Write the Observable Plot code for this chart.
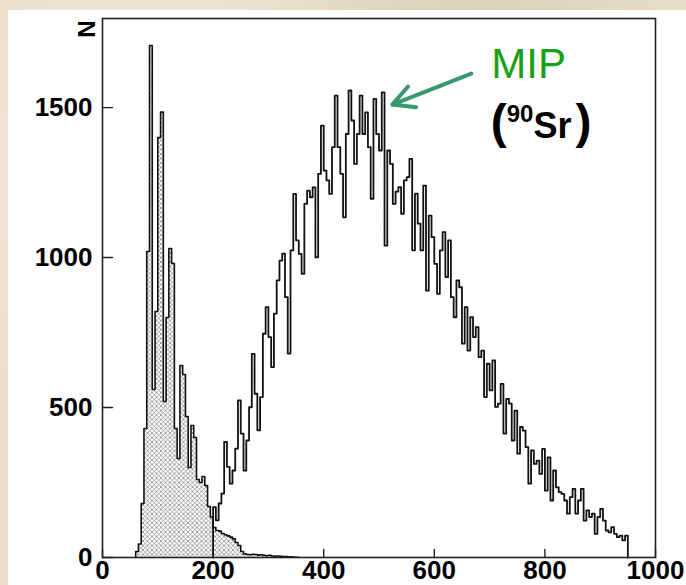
<!DOCTYPE html>
<html><head><meta charset="utf-8">
<script src="https://cdn.jsdelivr.net/npm/d3@7"></script>
<script src="https://cdn.jsdelivr.net/npm/@observablehq/plot@0.6"></script>
<style>
html,body{margin:0;padding:0;}
body{width:686px;height:585px;overflow:hidden;position:relative;
  background:#e9ddc7;
  background-image:radial-gradient(circle at 20% 30%, rgba(255,250,240,0.5) 0, rgba(255,250,240,0) 40%),
                   radial-gradient(circle at 70% 5%, rgba(200,185,160,0.35) 0, rgba(200,185,160,0) 30%);}
#chart{position:absolute;left:8px;top:10px;width:678px;height:575px;background:#fff;}
</style></head><body><div id="chart"></div>
<script>
// Histogram binning (ADC counts)
const binWidth = 5;
// MIP (90Sr) spectrum, bins starting at 200
const mipStart = 200;
const mipCounts = [
  168,124,180,213,385,302,246,290,363,524,
  413,290,390,501,679,546,424,535,746,835,
  735,635,813,924,990,1013,868,680,1024,1212,
  1057,1012,946,1179,1223,1201,1234,1001,1279,1440,
  1290,1257,1212,1368,1540,1368,1279,1134,1412,1557,
  1457,1312,1412,1540,1412,1484,1368,1196,1529,1412,
  1357,1551,1040,1357,1312,1179,1220,1235,1146,1257,
  1268,1329,1024,1213,1113,1024,1240,890,1140,1068,
  979,879,1024,1085,935,1057,868,801,924,901,
  713,835,690,801,735,768,668,690,535,646,
  557,657,502,513,579,413,529,513,390,490,
  346,435,423,368,246,357,312,323,279,362,
  223,334,190,290,234,218,212,190,146,201,
  229,146,190,229,123,157,135,146,79,135,
  162,123,90,84,101,79,68,73,57,73
];
// Pedestal / noise spectrum (hatched), bins starting at 60
const pedStart = 60;
const pedCounts = [
  20,45,180,430,1020,1707,560,820,1400,1485,
  520,800,1030,980,430,330,640,610,470,300,
  440,400,260,250,270,240,170,135,100,90,
  88,80,76,72,68,62,50,40,20,12,
  10,9,11,10,8,9,7,6,7,5,
  4,5,4,3,3,2,2,1,1
];
const xTicks = [0, 200, 400, 600, 800, 1000];
const yTicks = [0, 500, 1000, 1500];
const yAxisLabel = "N";
const mipLabel = "MIP";
const isotopeMass = "90";
const isotopeSymbol = "Sr";
// annotation anchors (data units)
const annoX = 703, mipLabelY = 1597, isoLabelY = 1397;
const arrowFrom = {x: 667, y: 1613}, arrowTo = {x: 524, y: 1510};

function stepPoints(start, counts) {
  const pts = [{x: start, y: 0}];
  counts.forEach((c, i) => pts.push({x: start + i * binWidth, y: c}));
  const end = start + counts.length * binWidth;
  pts.push({x: end, y: counts[counts.length - 1]});
  pts.push({x: end, y: 0});
  return pts;
}
const ped = stepPoints(pedStart, pedCounts);
const mip = stepPoints(mipStart, mipCounts);

const font = "'Liberation Sans', Arial, Helvetica, sans-serif";
const fmt = d => String(d);
const tickShape = {draw(context, l) { context.moveTo(0, 0); context.lineTo(0, -l); }};
const plot = Plot.plot({
  width: 678, height: 575,
  marginLeft: 94, marginTop: 8, marginRight: 31, marginBottom: 28,
  x: {domain: [0, 1000], label: null},
  y: {domain: [0, 1797], label: null},
  style: {background: "white", fontFamily: font, color: "black"},
  marks: [
    Plot.areaY(ped, {x: "x", y: "y", curve: "step-after", fill: "url(#xhatch)"}),
    Plot.lineY(ped, {x: "x", y: "y", curve: "step-after", stroke: "#111", strokeWidth: 1.6}),
    Plot.lineY(mip, {x: "x", y: "y", curve: "step-after", stroke: "#111", strokeWidth: 1.8}),
    Plot.frame({stroke: "#222", strokeWidth: 1.6}),
    // inward tick marks
    Plot.vector(xTicks, {x: d => d, frameAnchor: "bottom", length: 8, rotate: 0, anchor: "start", shape: tickShape, stroke: "#222", strokeWidth: 1.4}),
    Plot.vector(yTicks, {y: d => d, frameAnchor: "left", length: 10, rotate: 90, anchor: "start", shape: tickShape, stroke: "#222", strokeWidth: 1.4}),
    // tick labels
    Plot.axisX(xTicks, {tickSize: 0, tickPadding: 3, tickFormat: fmt, fontSize: 26, fontWeight: "bold"}),
    Plot.axisY(yTicks, {tickSize: 0, tickPadding: 10, tickFormat: fmt, fontSize: 26, fontWeight: "bold"}),
    Plot.text([mipLabel], {x: annoX, y: mipLabelY, text: d => d, textAnchor: "start", lineAnchor: "bottom", fontSize: 42, fill: "#16a016"}),
    Plot.arrow([{}], {x1: arrowFrom.x, y1: arrowFrom.y, x2: arrowTo.x, y2: arrowTo.y, stroke: "#38996c", strokeWidth: 4, headLength: 9, headAngle: 55})
  ]
});

const svg = d3.select(plot);
const defs = svg.insert("defs", ":first-child");
const pat = defs.append("pattern").attr("id", "xhatch").attr("patternUnits", "userSpaceOnUse").attr("width", 4.5).attr("height", 4.5);
pat.append("rect").attr("width", 4.5).attr("height", 4.5).attr("fill", "#fff");
pat.append("path").attr("d", "M-1,-1L5.5,5.5M5.5,-1L-1,5.5").attr("stroke", "#8a8a8a").attr("stroke-width", 0.8);

const sx = plot.scale("x"), sy = plot.scale("y");

// rotated y-axis title "N", placed just outside the top-left corner of the frame
svg.append("text")
  .attr("transform", `translate(${sx.apply(0) - 16},${sy.apply(sy.domain[1]) + 11}) rotate(-90)`)
  .attr("text-anchor", "middle").attr("dominant-baseline", "central")
  .attr("font-family", font).attr("font-weight", "bold").attr("font-size", 24)
  .attr("fill", "black").text(yAxisLabel);

// (90Sr) label with superscript, placed through the plot's scales
const t = svg.append("text")
  .attr("x", sx.apply(annoX)).attr("y", sy.apply(isoLabelY))
  .attr("text-anchor", "start")
  .attr("font-family", font).attr("font-weight", "bold").attr("fill", "black");
t.append("tspan").attr("font-size", 48).text("(");
t.append("tspan").attr("font-size", 24).attr("dy", -16).text(isotopeMass);
t.append("tspan").attr("font-size", 36).attr("dy", 16).text(isotopeSymbol);
t.append("tspan").attr("font-size", 48).attr("dx", 4).text(")");

document.getElementById("chart").appendChild(plot);
</script></body></html>
